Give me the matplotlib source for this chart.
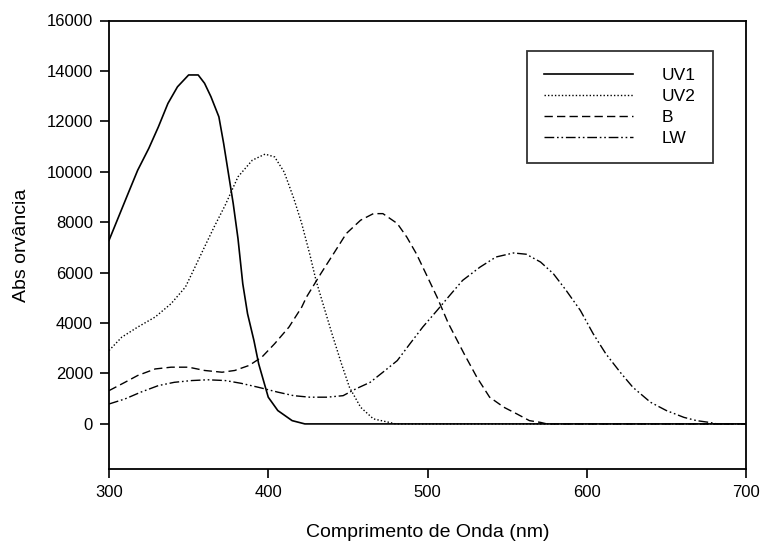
import matplotlib
matplotlib.use("Agg")
import matplotlib.pyplot as plt

# ---- data ----
uv1_wl = [300, 306, 312, 318, 325, 331, 337, 343, 350, 356, 360, 364, 369, 372, 375,
          378, 381, 384, 387, 391, 394, 397, 400, 406, 415, 423, 700]
uv1_val = [7280, 8210, 9140, 10060, 10930, 11780, 12710, 13370, 13840, 13840, 13510,
           12980, 12180, 11120, 9930, 8740, 7350, 5560, 4370, 3310, 2380, 1720, 1060,
           530, 130, 0, 0]

uv2_wl = [300, 308, 318, 329, 339, 348, 354, 360, 366, 373, 381, 390, 398, 404, 410,
          416, 421, 426, 430, 435, 440, 446, 451, 458, 466, 476, 480, 700]
uv2_val = [2910, 3440, 3840, 4240, 4770, 5430, 6220, 7020, 7810, 8680, 9800, 10460,
           10700, 10590, 9990, 8950, 7950, 6750, 5690, 4630, 3580, 2380, 1450, 660,
           200, 60, 0, 0]

b_wl = [300, 310, 318, 329, 339, 350, 360, 371, 379, 388, 396, 404, 413, 421, 424,
        433, 441, 449, 458, 466, 472, 481, 487, 493, 499, 506, 513, 523, 531, 539,
        548, 556, 564, 571, 575, 700]
b_val = [1320, 1650, 1920, 2180, 2250, 2250, 2120, 2050, 2120, 2320, 2650, 3180,
         3840, 4630, 5030, 5960, 6750, 7550, 8080, 8340, 8340, 7950, 7410, 6750,
         5960, 5030, 4000, 2780, 1850, 1060, 660, 400, 130, 60, 0, 0]

lw_wl = [300, 310, 320, 331, 341, 352, 362, 373, 383, 394, 406, 416, 426, 437, 447,
         455, 464, 472, 481, 489, 497, 506, 514, 522, 533, 543, 554, 562, 571, 579,
         587, 596, 604, 612, 621, 629, 640, 650, 661, 669, 677, 682, 700]
lw_val = [790, 990, 1260, 1520, 1650, 1720, 1750, 1720, 1610, 1450, 1260, 1120, 1060,
          1060, 1120, 1390, 1650, 2050, 2510, 3180, 3840, 4500, 5100, 5690, 6220, 6620,
          6780, 6730, 6420, 5960, 5300, 4500, 3580, 2780, 2050, 1450, 860, 530, 260,
          130, 60, 0, 0]

labels = ["UV1", "UV2", "B", "LW"]
xticks = [300, 400, 500, 600, 700]
yticks = [0, 2000, 4000, 6000, 8000, 10000, 12000, 14000, 16000]

plt.rcParams['font.family'] = ['Liberation Sans', 'DejaVu Sans']

fig = plt.figure(figsize=(7.61, 5.44), dpi=100)
ax = fig.add_axes([109 / 761, 1 - 469.3 / 544, (746 - 109) / 761, (469.3 - 20.5) / 544])

ax.plot(uv1_wl, uv1_val, color="black", lw=1.2, ls="-", label=labels[0])
ax.plot(uv2_wl, uv2_val, color="black", lw=1.0, ls=(0, (1, 1.5)), label=labels[1])
ax.plot(b_wl, b_val, color="black", lw=1.0, ls=(0, (6, 3)), label=labels[2])
ax.plot(lw_wl, lw_val, color="black", lw=1.0, ls=(0, (7, 2, 1.2, 2, 1.2, 2)), label=labels[3])

ax.set_xlim(300, 700)
ax.set_ylim(-1800, 16000)
ax.set_xticks(xticks)
ax.set_yticks(yticks)
ax.tick_params(direction="out", length=6.5, width=1.2, labelsize=12, top=False, right=False, pad=5)
for s in ax.spines.values():
    s.set_linewidth(1.3)

ax.set_xlabel("Comprimento de Onda (nm)", fontsize=14, labelpad=17)
ax.set_ylabel("Abs orvância", fontsize=14, labelpad=12)

leg = ax.legend(loc="upper left", bbox_to_anchor=((527 - 109) / 637, 1 - (50.7 - 20.5) / 448.8),
                frameon=True, fancybox=False, edgecolor="black", fontsize=12.5,
                handlelength=5.1, handletextpad=1.67, labelspacing=0.33,
                borderpad=1.0, borderaxespad=0)
leg.get_frame().set_linewidth(1.3)
for t in leg.get_texts():
    t.set_color("black")

fig.savefig("out.png", dpi=100)
